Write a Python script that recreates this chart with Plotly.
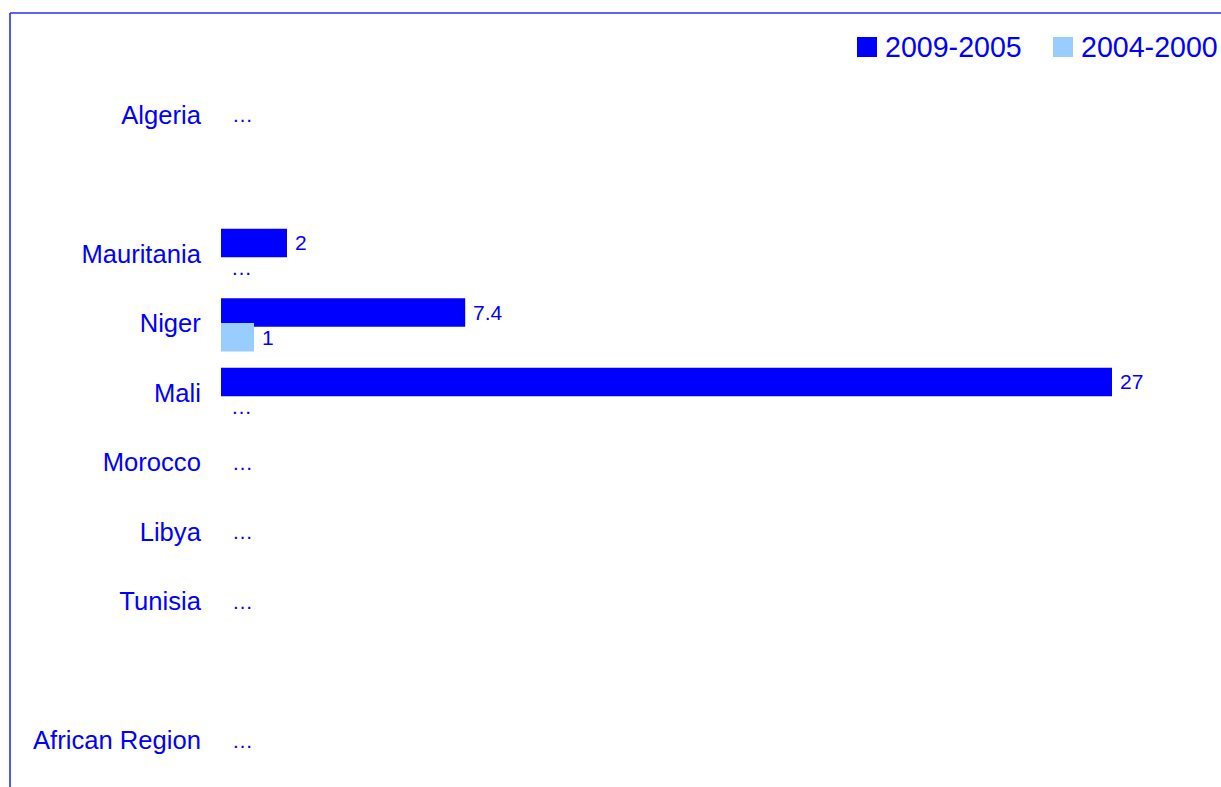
import plotly.graph_objects as go

# Rows from top to bottom; None marks an empty spacer row
categories = ["Algeria", None, "Mauritania", "Niger", "Mali", "Morocco",
              "Libya", "Tunisia", None, "African Region"]
series_names = ["2009-2005", "2004-2000"]
values_2009_2005 = [None, None, 2, 7.4, 27, None, None, None, None, None]
values_2004_2000 = [None, None, None, 1, None, None, None, None, None, None]
missing_mark = "\u2026"

DARK = "#0000ff"
LIGHT = "#99ccff"
TEXT = "#0000ff"
FONT = "Liberation Sans, Arial, sans-serif"

W, H = 1221, 787
ML, MR, MT, MB = 221, 0, 80, 12
PW, PH = W - ML - MR, H - MT - MB
XMAX = PW / 33.0

rows = [i for i, c in enumerate(categories) if c is not None]
labels = [categories[i] for i in rows]
v1 = [values_2009_2005[i] for i in rows]
v2 = [values_2004_2000[i] for i in rows]

BAR_W = 0.41
OFF_1, OFF_2 = -0.36, -0.005

fig = go.Figure()
fig.add_trace(go.Bar(y=rows, x=v1, orientation="h", name=series_names[0],
                     marker=dict(color=DARK, line=dict(width=0)),
                     width=BAR_W, offset=OFF_1, showlegend=False))
fig.add_trace(go.Bar(y=rows, x=v2, orientation="h", name=series_names[1],
                     marker=dict(color=LIGHT, line=dict(width=0)),
                     width=BAR_W, offset=OFF_2, showlegend=False))

VAL_FONT = dict(size=21, color=TEXT, family=FONT)

annotations = []
for r, a, b in zip(rows, v1, v2):
    if a is None and b is None:
        annotations.append(dict(x=0, y=r, text=missing_mark, xanchor="left",
                                yanchor="middle", xshift=9, showarrow=False,
                                font=VAL_FONT))
        continue
    for val, off in ((a, OFF_1), (b, OFF_2)):
        yc = r + off + BAR_W / 2
        if val is None:
            annotations.append(dict(x=0, y=yc, text=missing_mark, xanchor="left",
                                    yanchor="middle", xshift=8, showarrow=False,
                                    font=VAL_FONT))
        else:
            annotations.append(dict(x=val, y=yc, text=f"{val:g}", xanchor="left",
                                    yanchor="middle", xshift=6, showarrow=False,
                                    font=VAL_FONT))


def px_x(X):
    return (X - ML) / PW


def px_y(Y):
    return (H - MB - Y) / PH


# Legend drawn as swatches plus text in the top-right corner
shapes = []
legend_items = [(series_names[0], DARK, 857), (series_names[1], LIGHT, 1053)]
for name, color, x0 in legend_items:
    shapes.append(dict(type="rect", xref="paper", yref="paper",
                       x0=px_x(x0), x1=px_x(x0 + 20), y0=px_y(57), y1=px_y(37),
                       fillcolor=color, line=dict(width=0)))
    annotations.append(dict(xref="paper", yref="paper", x=px_x(x0 + 26),
                            y=px_y(47), text=name, xanchor="left",
                            yanchor="middle", showarrow=False,
                            font=dict(size=28.6, color=TEXT, family=FONT)))

# Outer frame (top and left edges)
frame = dict(color="#2a2aff", width=1.6)
shapes.append(dict(type="line", xref="paper", yref="paper", x0=px_x(10),
                   x1=px_x(W + 5), y0=px_y(13), y1=px_y(13), line=frame))
shapes.append(dict(type="line", xref="paper", yref="paper", x0=px_x(10),
                   x1=px_x(10), y0=px_y(13), y1=px_y(H + 5), line=frame))

fig.update_layout(
    width=W, height=H,
    margin=dict(l=ML, r=MR, t=MT, b=MB),
    paper_bgcolor="white", plot_bgcolor="white",
    barmode="overlay",
    showlegend=False,
    font=dict(family=FONT, color=TEXT),
    annotations=annotations,
    shapes=shapes,
)
fig.update_xaxes(range=[0, XMAX], visible=False, fixedrange=True)
fig.update_yaxes(range=[len(categories) - 0.5, -0.5], tickvals=rows,
                 ticktext=labels, showgrid=False, zeroline=False,
                 showline=False, ticks="outside", ticklen=14,
                 tickcolor="rgba(0,0,0,0)",
                 tickfont=dict(size=25.6, color=TEXT, family=FONT))

fig.write_html("out.html")
